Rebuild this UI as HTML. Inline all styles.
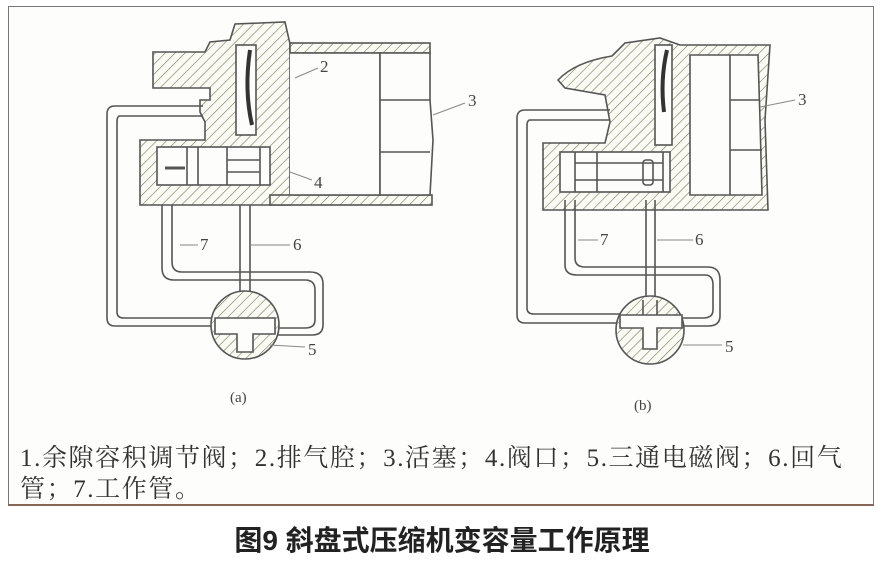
<!DOCTYPE html>
<html><head><meta charset="utf-8"><style>
body{margin:0;background:#fff;width:884px;height:561px;overflow:hidden;position:relative}
.frame{position:absolute;left:8px;top:6px;width:866px;height:500px;border:1px solid #777;border-bottom:2px solid #865;background:#fdfdfb;box-sizing:border-box}
.t{position:absolute;font-family:"Liberation Serif","Noto Serif CJK SC",serif;font-size:25px;color:#333;left:20px;letter-spacing:1.6px;white-space:nowrap}
.title{position:absolute;top:519px;left:0;width:884px;text-align:center;font-family:"Liberation Sans","Noto Sans CJK SC",sans-serif;font-weight:bold;font-size:28px;color:#222}
</style></head><body>
<div class="frame"></div>
<svg style="position:absolute;left:0;top:0" width="884" height="420" viewBox="0 0 884 420">
<defs>
<pattern id="h" width="7" height="7" patternUnits="userSpaceOnUse" patternTransform="rotate(45)"><rect width="7" height="7" fill="#fbfbf5"/><line x1="0" y1="0" x2="0" y2="7" stroke="#7a7a55" stroke-width="1.2"/></pattern>
</defs>
<g stroke="#555" stroke-width="1.6" fill="none">
<!-- (a) -->
<path d="M153,52 L205,52 L210,42 L230,40 L235,24 L285,22 L290,44 L290,205 L140,205 L140,140 L205,140 L205,122 L200,112 L200,100 L210,100 L210,88 L153,88 Z" fill="url(#h)"/>
<rect x="290" y="43" width="140" height="10" fill="url(#h)"/>
<rect x="270" y="195" width="162" height="10" fill="url(#h)"/>
<path d="M290,53 L380,53 L380,195 L290,195" fill="#fdfdfb"/>
<path d="M380,53 L430,53 L430,100 L433,140 L430,195 L380,195 Z" fill="#fdfdfb"/>
<line x1="380" y1="100" x2="430" y2="100"/><line x1="380" y1="152" x2="430" y2="152"/>
<rect x="236" y="45" width="20" height="90" fill="#fdfdfb"/>
<path d="M250,50 Q244,90 252,125" stroke="#333" stroke-width="4"/>
<rect x="157" y="147" width="113" height="38" fill="#fdfdfb"/>
<line x1="187" y1="147" x2="187" y2="185"/><line x1="198" y1="147" x2="198" y2="185"/><line x1="227" y1="147" x2="227" y2="185"/><line x1="260" y1="147" x2="260" y2="185"/>
<line x1="227" y1="160" x2="260" y2="160"/><line x1="227" y1="172" x2="260" y2="172"/>
<line x1="165" y1="168" x2="185" y2="168" stroke-width="3"/>
<path d="M203,106 L115,106 Q107,106 107,114 L107,318 Q107,326 115,326 L212,326"/>
<path d="M203,116 L120,116 Q117,116 117,122 L117,312 Q117,318 124,318 L212,318"/>
<path d="M162,205 L162,268 Q162,280 174,280 L305,280 Q315,280 315,290 L315,320 Q315,328 305,328 L278,328"/>
<path d="M172,205 L172,262 Q172,272 182,272 L310,272 Q323,272 323,284 L323,325 Q323,335 312,335 L278,335"/>
<path d="M240,205 L240,292 M250,205 L250,292"/>
<circle cx="245" cy="325" r="34" fill="url(#h)"/>
<path d="M215,318 L275,318 L275,334 L253,334 L253,352 L237,352 L237,334 L215,334 Z" fill="#fdfdfb"/>
<!-- (b) -->
<path d="M558,80 Q575,62 612,56 L625,43 L660,38 L680,45 L770,45 L765,120 L768,210 L543,210 L543,143 L605,143 L610,122 L605,95 L565,88 Z" fill="url(#h)"/>
<path d="M690,55 L758,55 L760,120 L762,195 L690,195 Z" fill="#fdfdfb"/>
<line x1="730" y1="55" x2="730" y2="195"/><line x1="730" y1="100" x2="760" y2="100"/><line x1="730" y1="150" x2="762" y2="150"/>
<rect x="655" y="45" width="17" height="100" fill="#fdfdfb"/>
<path d="M667,50 Q660,80 664,112" stroke="#333" stroke-width="4"/>
<rect x="560" y="152" width="110" height="40" fill="#fdfdfb"/>
<line x1="575" y1="152" x2="575" y2="192"/><line x1="597" y1="152" x2="597" y2="192"/><line x1="663" y1="152" x2="663" y2="192"/>
<line x1="575" y1="163" x2="663" y2="163"/><line x1="575" y1="180" x2="663" y2="180"/>
<rect x="643" y="160" width="10" height="25" rx="3"/>
<path d="M610,110 L525,110 Q517,110 517,118 L517,315 Q517,323 525,323 L620,323"/>
<path d="M610,120 L530,120 Q527,120 527,126 L527,308 Q527,314 534,314 L620,314"/>
<path d="M565,200 L565,265 Q565,275 577,275 L705,275 Q713,275 713,285 L713,310 Q713,318 703,318 L680,318"/>
<path d="M575,200 L575,258 Q575,267 585,267 L708,267 Q720,267 720,280 L720,316 Q720,326 708,326 L680,326"/>
<path d="M646,200 L646,300 M655,200 L655,300"/>
<circle cx="650" cy="330" r="34" fill="url(#h)"/>
<path d="M620,315 L682,315 L682,328 L657,328 L657,349 L643,349 L643,328 L620,328 Z" fill="#fdfdfb"/>
<path d="M643,300 L643,315 M657,300 L657,315" />
</g>
<g stroke="#888" stroke-width="1">
<line x1="295" y1="78" x2="318" y2="68"/><line x1="290" y1="172" x2="312" y2="180"/><line x1="433" y1="115" x2="465" y2="103"/>
<line x1="180" y1="245" x2="198" y2="245"/><line x1="250" y1="245" x2="290" y2="245"/><line x1="270" y1="345" x2="305" y2="347"/>
<line x1="760" y1="107" x2="795" y2="100"/><line x1="578" y1="240" x2="598" y2="240"/><line x1="657" y1="240" x2="693" y2="240"/><line x1="683" y1="345" x2="722" y2="345"/>
</g>
<g font-family="Liberation Serif,serif" font-size="17" fill="#444">
<text x="320" y="72">2</text><text x="314" y="188">4</text><text x="468" y="106">3</text>
<text x="200" y="250">7</text><text x="293" y="250">6</text><text x="308" y="355">5</text>
<text x="798" y="105">3</text><text x="600" y="245">7</text><text x="695" y="245">6</text><text x="725" y="352">5</text>
<text x="230" y="402" font-size="15">(a)</text><text x="634" y="410" font-size="15">(b)</text>
</g>
</svg>
<div class="t" style="top:438px">1.余隙容积调节阀；2.排气腔；3.活塞；4.阀口；5.三通电磁阀；6.回气</div>
<div class="t" style="top:469px">管；7.工作管。</div>
<div class="title">图9 斜盘式压缩机变容量工作原理</div>
</body></html>
